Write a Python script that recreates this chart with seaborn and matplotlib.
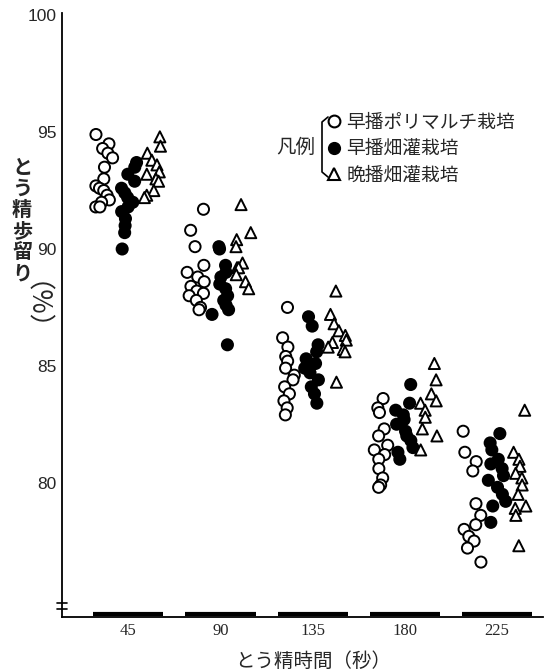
import numpy as np
import matplotlib.pyplot as plt
import seaborn as sns
import pandas as pd
from matplotlib.lines import Line2D

# とう精時間（秒）
times = [45, 90, 135, 180, 225]

# 早播ポリマルチ栽培 (open circles)
early_poly = [
    [94.9, 94.5, 94.3, 94.1, 93.9, 93.5, 93.0, 92.7, 92.6, 92.5, 92.3, 92.1, 92.0, 91.8, 91.8],
    [91.7, 90.8, 90.1, 89.3, 89.0, 88.8, 88.6, 88.4, 88.2, 88.1, 88.0, 87.8, 87.5, 87.4],
    [87.5, 86.2, 85.8, 85.4, 85.2, 84.9, 84.6, 84.4, 84.1, 83.8, 83.5, 83.2, 82.9],
    [83.6, 83.2, 83.0, 82.3, 82.0, 81.6, 81.4, 81.2, 81.0, 80.6, 80.2, 79.9, 79.8],
    [82.2, 81.3, 80.9, 80.5, 79.1, 78.6, 78.2, 78.0, 77.7, 77.5, 77.2, 76.6],
]

# 早播畑灌栽培 (filled circles)
early_irr = [
    [93.7, 93.5, 93.2, 92.9, 92.6, 92.4, 92.2, 92.0, 91.8, 91.6, 91.3, 91.0, 90.7, 90.0],
    [90.1, 90.0, 89.3, 89.0, 88.8, 88.5, 88.3, 88.0, 87.8, 87.6, 87.4, 87.2, 85.9],
    [87.1, 86.7, 85.9, 85.6, 85.3, 85.1, 84.9, 84.7, 84.4, 84.1, 83.8, 83.4],
    [84.2, 83.4, 83.1, 82.9, 82.7, 82.5, 82.2, 82.0, 81.8, 81.5, 81.3, 81.0],
    [82.1, 81.7, 81.4, 81.0, 80.8, 80.6, 80.3, 80.1, 79.8, 79.5, 79.2, 79.0, 78.3],
]

# 晩播畑灌栽培 (open triangles)
late_irr = [
    [94.8, 94.4, 94.1, 93.8, 93.6, 93.3, 93.2, 93.0, 92.9, 92.5, 92.3, 92.2],
    [91.9, 90.7, 90.4, 90.1, 89.4, 89.2, 89.2, 88.9, 88.6, 88.3],
    [88.2, 87.2, 86.8, 86.5, 86.3, 86.1, 86.0, 85.8, 85.7, 85.6, 84.3],
    [85.1, 84.4, 83.8, 83.5, 83.4, 83.1, 82.8, 82.3, 82.0, 81.4],
    [83.1, 81.3, 81.0, 80.7, 80.4, 80.2, 79.9, 79.5, 79.0, 78.9, 78.6, 77.3],
]

names = ['早播ポリマルチ栽培', '早播畑灌栽培', '晩播畑灌栽培']
markers = ['o', 'o', '^']
faces = ['white', 'black', 'white']

rows = []
for name, series in zip(names, [early_poly, early_irr, late_irr]):
    for t, vals in zip(times, series):
        for v in vals:
            rows.append({'時間': t, '歩留り': v, '系列': name})
df = pd.DataFrame(rows)

sns.set_style('white')
plt.rcParams['font.family'] = ['Noto Sans CJK JP', 'DejaVu Sans']

fig = plt.figure(figsize=(5.44, 6.71), dpi=100)
ax = fig.add_axes([62 / 544, 54 / 671, 481 / 544, 604 / 671])

np.random.seed(7)  # only for the horizontal jitter of the strips
for name, marker, face in zip(names, markers, faces):
    sub = df[df['系列'] == name]
    sns.stripplot(data=sub, x='時間', y='歩留り', hue='系列', hue_order=names,
                  order=times, dodge=True, jitter=0.3, marker=marker,
                  palette={n: face for n in names}, edgecolor='black',
                  linewidth=1.4, size=8, legend=False, ax=ax)

ax.set_xlim(-0.72, 4.5)
ax.set_ylim(74.25, 100.1)

# black bars along the x axis under each group
for i in range(len(times)):
    ax.hlines(74.38, i - 0.38, i + 0.38, color='black', lw=3, zorder=3)

ax.set_yticks([80, 85, 90, 95, 100])
ax.set_yticks(range(75, 100), minor=True)
ax.tick_params(axis='y', which='major', direction='in', length=6, width=2,
               labelsize=12.5, pad=4)
ax.tick_params(axis='y', which='minor', direction='inout', length=5, width=1)
ax.tick_params(axis='x', length=0, pad=4)
for lab in ax.get_yticklabels():
    lab.set_family(['Liberation Sans', 'DejaVu Sans'])
for lab in ax.get_xticklabels():
    lab.set_family(['Liberation Serif', 'DejaVu Serif'])
    lab.set_fontsize(12)

for s in ['top', 'right']:
    ax.spines[s].set_visible(False)
for s in ['left', 'bottom']:
    ax.spines[s].set_linewidth(1.3)
    ax.spines[s].set_color('black')

ax.set_xlabel('')
ax.set_ylabel('')

# axis break marks
for yb in [74.6, 74.85]:
    ax.plot([-0.77, -0.67], [yb, yb], color='black', lw=1.2, clip_on=False)

fig.text(313 / 544, 1 - 661 / 671, 'とう精時間（秒）', ha='center', va='center', fontsize=14)
fig.text(22 / 544, 1 - 220 / 671, '\n'.join('とう精歩留り'), ha='center', va='center',
         fontsize=14.5, linespacing=1.0, fontweight='bold')
fig.text(21 / 544, 1 - 320 / 671, '（%）', ha='center', va='center', rotation=270,
         fontsize=19, style='italic')

# legend
handles = [
    Line2D([], [], ls='none', marker='o', ms=8.5, mfc='white', mec='black', mew=1.5),
    Line2D([], [], ls='none', marker='o', ms=8.5, mfc='black', mec='black'),
    Line2D([], [], ls='none', marker='^', ms=8, mfc='white', mec='black', mew=1.5),
]
fig.legend(handles, names, loc='upper left', bbox_to_anchor=(324 / 544, 1 - 112 / 671),
           frameon=False, fontsize=13.5, handletextpad=0.1, handlelength=1.1,
           labelspacing=0.28, borderpad=0, borderaxespad=0)
fig.text(296 / 544, 1 - 147 / 671, '凡例', ha='center', va='center', fontsize=14)
bx = [328 / 544, 322 / 544, 322 / 544, 328 / 544]
by = [1 - 117 / 671, 1 - 122 / 671, 1 - 172 / 671, 1 - 177 / 671]
fig.add_artist(Line2D(bx, by, color='black', lw=1.2, transform=fig.transFigure))

fig.savefig('out.png', dpi=100)
